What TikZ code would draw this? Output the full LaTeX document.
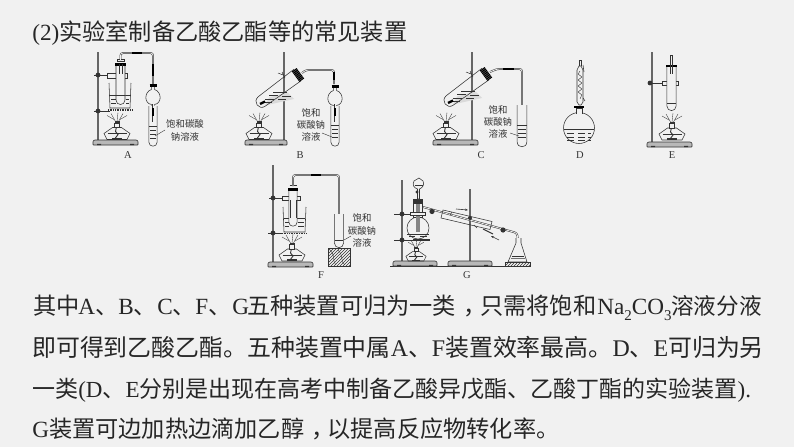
\documentclass[tikz,border=0pt]{standalone}
\usepackage{fontspec}
\setmainfont{Liberation Serif}
\newfontfamily\cjk{Noto Sans CJK SC}
\usetikzlibrary{arrows.meta,patterns}
\definecolor{bgc}{HTML}{F1F1F1}
\definecolor{ink}{HTML}{333333}
\newcommand\zh[1]{{\cjk #1}}
\newcommand\subs[1]{\raisebox{-0.28em}{\fontsize{15}{15}\selectfont #1}}
\newcommand\midcomma{\hspace{.32em}\zh{，}\hspace{-.32em}}
\newcommand\slot[2]{\makebox[#1pt][l]{#2}}
\newcommand\ttube[4]{\draw[fill=bgc] (#1-#4,#2)--(#1-#4,#3) .. controls (#1-#4,#3+1.33*#4) and (#1+#4,#3+1.33*#4) .. (#1+#4,#3)--(#1+#4,#2);}
\newcommand\stand[5]{% rodx top bx1 bx2 basey
  \draw[line width=1.5pt,ink!75] (#1,#2)--(#1,#5);
  \draw[fill=ink!35,line width=.6pt,rounded corners=.6pt] (#3,#5+1.2)--(#3+1.5,#5)--(#4-1.5,#5)--(#4,#5+1.2)--(#4,#5+5)--(#3,#5+5)--cycle;
  \fill[ink] (#3+4,#5+3.8) rectangle (#3+8,#5+5.2) (#4-8,#5+3.8) rectangle (#4-4,#5+5.2);}
\newcommand\boss[4]{% x y x1 x2 clamp arm
  \draw[line width=1pt] (#3,#2)--(#4,#2);
  \fill[ink] (#1,#2) circle[radius=2.4pt];}
\newcommand\band[4]{\draw[line width=2.6pt,black] (#1,#2)--(#3,#4);}
\tikzset{
  every path/.style={line width=.55pt,color=ink},
  gtube/.style={draw=ink,double=bgc,double distance=.8pt,line width=.5pt,rounded corners=2.5pt},
  tlabel/.style={inner sep=0pt,font=\cjk\fontsize{9.4}{9.4}\selectfont,text=ink,anchor=center},
  letter/.style={inner sep=0pt,font=\fontsize{10.5}{10.5}\selectfont,text=ink,anchor=center},
  bodyline/.style={inner sep=0pt,anchor=base west,font=\fontsize{23.2}{23.2}\selectfont,text=black!85},
  lamp/.pic={
    \draw (-13,-6)--(-4.5,-12)--(4.5,-12)--(13,-6)--(10,0)--(-10,0)--cycle;
    \draw[line width=.35pt] (-9.5,-6)--(9.5,-6);
    \fill[ink] (-5,-1.6) rectangle (5,0);
    \draw[line width=.9pt] (0,-15)--(-1.5,-8)--(1,-5)--(-2,-1);
    \draw[fill=bgc] (-2.5,-16.5) rectangle (2.5,-12);
    \fill[ink] (-2.5,-18.5) rectangle (2.5,-16);
    \draw[line width=.35pt] (-1.5,-18)--(-6,-26) (1.5,-18)--(6,-26) (0,-18)--(1,-27);
    \draw[line width=.35pt] (-3,-20)--(-10,-24) (3,-20)--(10,-24);
  },
  slant/.pic={
    \path[fill=ink!18,draw=none] (-29,22.5)--(-10.5,17.5)--(-4,24)--(-33,30.5)--cycle;
    \draw (-4,-5.8)--(-39.5,21.5) .. controls (-46,26.5) and (-39,36) .. (-32.5,31) -- (3,5.8);
    \draw[line width=.4pt] (-25,17)--(-11.5,17);
    \draw[line width=.3pt] (-29,20.5)--(-20,20.5) (-16,21)--(-7,21) (-33,24)--(-24,24) (-20,24.5)--(-12,24.5) (-34,27.5)--(-26,27.5);
    \draw[line width=2.4pt,black] (-38,29)--(-33,26.5);
    \draw[line width=6pt,black,dash pattern=on 1.2pt off .5pt] (-3.8,-5.2)--(3.8,5.2);
  },
  vapor/.pic={
    \draw[fill=bgc] (-1.6,-10.5)--(-1.6,-7.5) .. controls (-9,-5) and (-9,6.5) .. (-1.6,7.5) -- (-1.6,8.5) (1.6,8.5)--(1.6,7.5) .. controls (9,6.5) and (9,-5) .. (1.6,-7.5)--(1.6,-10.5);
    \draw[line width=2.4pt,black] (-3.5,-11.5)--(3.5,-11.5);
  },
}
\begin{document}
\begin{tikzpicture}[x=1pt,y=-1pt]
\useasboundingbox[fill=bgc,draw=none] (0,0) rectangle (794,447);
% ------ A
\stand{98}{52}{93}{138}{140}
\boss{98}{75}{94}{107}
\boss{98}{111}{94}{110}
\draw[fill=bgc] (107,73) rectangle (127,78);
\draw[fill=bgc] (109,83) -- (110,108) -- (130,108) -- (131,83);
\draw[line width=.35pt] (110,95)--(130,95) (111,99)--(116,99) (126,99)--(129,99) (111,103)--(116,103) (126,103)--(129,103);
\draw[line width=1.8pt,dash pattern=on 1pt off .7pt] (108,110)--(133,110);
\ttube{120.5}{64}{100}{4.5}
\draw[line width=.35pt] (116,95)--(125,95);
\draw[line width=3pt,black] (115,64)--(126,64);
\draw[fill=bgc] (117,59)--(124,59)--(124,61.5)--(117,61.5)--cycle;
\draw[line width=.5pt] (119,64)--(119,74) (122,64)--(122,74);
\draw[gtube] (120.5,60)--(120.5,53)--(153,53)--(153,84);
\band{132}{53}{142}{53}
\band{153}{64}{153}{76}
\pic at (153,97) {vapor};
\ttube{153}{106}{142}{4.2}
\draw[line width=.35pt] (149,126)--(157,126);
\draw[line width=.25pt] (150,130)--(156,130) (150,134)--(156,134) (150,138)--(156,138);
\draw[gtube] (153,104)--(153,122);
\band{153}{108}{153}{116}
\draw[line width=.4pt] (155,136)--(165,130);
\pic at (117,139.5) {lamp};
\node[tlabel] (la1) at (185,124) {饱和碳酸};
\node[tlabel] (la2) at (185,137) {钠溶液};
\node[letter] (lA) at (128,155) {A};
% ------ B
\stand{284}{52}{245}{287}{140}
\pic at (298,75) {slant};
\draw[gtube] (302,73)--(306,70)--(334,70)--(334,84);
\band{334}{72}{334}{80}
\draw[line width=.5pt] (282,72)--(285,78) (278,73)--(283,75);
\pic at (335,98) {vapor};
\ttube{335}{106}{142}{4.2}
\draw[line width=.35pt] (331,125)--(339,125);
\draw[line width=.25pt] (332,129)--(338,129) (332,133)--(338,133) (332,137)--(338,137);
\draw[gtube] (335,104)--(335,122);
\band{335}{108}{335}{116}
\draw[line width=.4pt] (322,133)--(332,137);
\pic at (259,139.5) {lamp};
\node[tlabel] (lb1) at (311,113) {饱和};
\node[tlabel] (lb2) at (311,125) {碳酸钠};
\node[tlabel] (lb3) at (311,137) {溶液};
\node[letter] (lB) at (300,155) {B};
% ------ C
\stand{472}{52}{433}{478}{140}
\pic at (486,74) {slant};
\draw[gtube] (490,72)--(497,69)--(522,69)--(522,107);
\band{503}{69}{514}{69}
\draw[line width=.5pt] (470,71)--(473,77) (466,72)--(471,74);
\ttube{522}{105}{142}{4.8}
\draw[line width=.35pt] (517,125)--(527,125);
\draw[line width=.25pt] (518,129)--(526,129) (518,133)--(526,133) (518,137)--(526,137);
\draw[line width=.4pt] (510,133)--(519,136);
\pic at (446,139.5) {lamp};
\node[tlabel] (lc1) at (498,110) {饱和};
\node[tlabel] (lc2) at (498,122) {碳酸钠};
\node[tlabel] (lc3) at (498,134) {溶液};
\node[letter] (lC) at (481,155) {C};
% ------ D
\draw (579,128) circle[radius=15.5pt];
\draw[fill=bgc] (576,114)--(576,108)--(582,108)--(582,114);
\draw[line width=2.6pt,black] (574,107)--(584,107);
\draw (564,129)--(594,129);
\foreach \yy in {133,137,140}{\draw[line width=.3pt] (567,\yy)--(574,\yy) (578,\yy+.5)--(585,\yy+.5) (588,\yy)--(591,\yy);}
\draw (577,70)--(577,102) (583,70)--(583,102) (577,102)--(579,105)--(581,105)--(583,102);
\draw (577,70)--(579,66)--(581,66)--(583,70);
\draw (579,60)--(579,66) (581,60)--(581,66) (579,60)--(581,60);
\draw (583,65)--(584,72) (583,98)--(585,101);
\draw[line width=.4pt] (580,71)--(578.2,74)--(581.8,77)--(578.2,80)--(581.8,83)--(578.2,86)--(581.8,89)--(578.2,92)--(581.8,95)--(580,99);
\node[letter] (lD) at (580,155) {D};
% ------ E
\stand{652}{52}{647}{692}{142}
\boss{650}{83}{650}{662}
\draw[fill=bgc] (662,81) rectangle (678,85);
\ttube{671.5}{66}{106}{4.6}
\draw[line width=.35pt] (667,103)--(676,103);
\draw[line width=2.6pt,black] (666,66)--(677,66);
\draw (670.5,55)--(670.5,74) (672.5,55)--(672.5,74) (670.5,55)--(672.5,55);
\pic at (672,140) {lamp};
\node[letter] (lE) at (672,155) {E};
% ------ F
\stand{273}{165}{268}{313}{262}
\boss{273}{198}{269}{282}
\boss{273}{233}{268}{283}
\draw[fill=bgc] (282,196) rectangle (300,200);
\draw[fill=bgc] (283,207)--(284,232)--(305,232)--(306,207);
\draw[line width=.35pt] (284,218)--(305,218) (285,222)--(289,222) (298,222)--(304,222) (285,226)--(289,226) (298,226)--(304,226);
\draw[line width=1.6pt,dash pattern=on 1pt off .7pt] (282,233.5)--(307,233.5);
\ttube{293}{188}{222}{4.2}
\draw[line width=3pt,black] (288,189)--(298,189);
\draw[line width=.4pt] (289.5,185)--(296.5,185) (290,200)--(290,218) (296,200)--(296,218);
\draw[gtube] (293,186)--(293,175)--(339,175)--(339,238);
\band{311}{175}{321}{175}
\ttube{339}{214}{243}{4.6}
\draw[line width=.35pt] (335,240)--(343,240);
\draw[pattern=north east lines,pattern color=ink] (328,248) rectangle (350,266);
\draw[line width=.35pt] (330,250) .. controls (336,256) and (332,262) .. (336,265) (338,250) .. controls (344,256) and (340,262) .. (345,265);
\pic at (292,261) {lamp};
\draw[line width=.4pt] (344,240)--(351,236);
\node[tlabel] (lf1) at (362,218) {饱和};
\node[tlabel] (lf2) at (362,231) {碳酸钠};
\node[tlabel] (lf3) at (362,243) {溶液};
\node[letter] (lF) at (321,275) {F};
% ------ G
\draw[line width=.6pt] (390,266)--(530,266);
\stand{402}{180}{393}{437}{261}
\stand{470}{189}{448}{492}{261}
\boss{402}{214}{394}{415}
\boss{402}{240}{394}{414}
\draw[line width=1.4pt] (413,240)--(430,240);
\draw (418,228) circle[radius=11pt];
\draw (407,234)--(429,234);
\draw[line width=.25pt] (409,236)--(415,236) (420,236)--(427,236);
\draw[fill=bgc] (413,199) rectangle (422.5,217);
\fill[ink] (413,199) rectangle (422.5,204);
\fill[ink!60] (416,204) rectangle (420,232);
\draw[fill=bgc] (410,212) rectangle (425,215);
\draw[fill=bgc] (419,178)--(423,181) .. controls (425,185) and (422,188) .. (419.5,189)--(419.5,199)--(417.5,199)--(417.5,189) .. controls (414,188) and (412,185) .. (414,181)--cycle;
\draw[line width=.4pt] (414.5,185)--(423,185);
\fill[ink] (417,192) circle[radius=1.6pt];
% condenser
\draw[gtube] (423,207)--(517,233)--(518,240);
\fill[ink] (432,211.5) circle[radius=2.6pt];
\fill[ink] (503,230) circle[radius=2.6pt];
\draw (443,210)--(492,221.5)--(490,229.5)--(441,218)--cycle;
\draw (450,215)--(452,212) (474,225)--(477,228);
\draw[line width=.6pt,-{Stealth[length=3pt]}] (456,209)--(468,210);
\draw[line width=.6pt,-{Stealth[length=3pt]}] (499,240)--(491,236);
\draw[line width=1pt] (483,229)--(493,234);
\fill[ink] (470,218) circle[radius=2pt];
\draw[fill=bgc] (516,238)--(516,243)--(508,262)--(527,262)--(521,243)--(521,238);
\draw[line width=.35pt] (512,256)--(524,256);
\draw[line width=1pt,ink!70] (511,258)--(525,258);
\draw[pattern=north east lines,pattern color=ink] (505,262) rectangle (530,266);
\pic[scale=.78] at (416,261) {lamp};
\node[letter] (lG) at (467,275) {G};
% ------ text
\node[bodyline] (title) at (32,40) {(2)\zh{实验室制备乙酸乙酯等的常见装置}};
\node[bodyline] (t1) at (33,314) {\slot{45}{\zh{其中}}\slot{40}{A\zh{、}}\slot{39}{B\zh{、}}\slot{38}{C\zh{、}}\slot{37}{F\zh{、}}\slot{15}{G}\slot{233}{\zh{五种装置可归为一类}\midcomma}\slot{117}{\zh{只需将饱和}}\slot{74}{Na\subs{2}CO\subs{3}}\fontsize{22.6}{22.6}\selectfont\zh{溶液分液}};
\node[bodyline,font=\fontsize{23.9}{23.9}\selectfont] (t2) at (32,356) {\zh{即可得到乙酸乙酯。五种装置中属}A\zh{、}F\zh{装置效率最高。}D\zh{、}E\zh{可归为另}};
\node[bodyline,font=\fontsize{23}{23}\selectfont] (t3) at (32,397) {\zh{一类}(D\zh{、}E\zh{分别是出现在高考中制备乙酸异戊酯、乙酸丁酯的实验装置}).};
\node[bodyline] (t4) at (32,437) {G\zh{装置可边加热边滴加乙醇}\midcomma\zh{以提高反应物转化率。}};
\end{tikzpicture}
\end{document}
